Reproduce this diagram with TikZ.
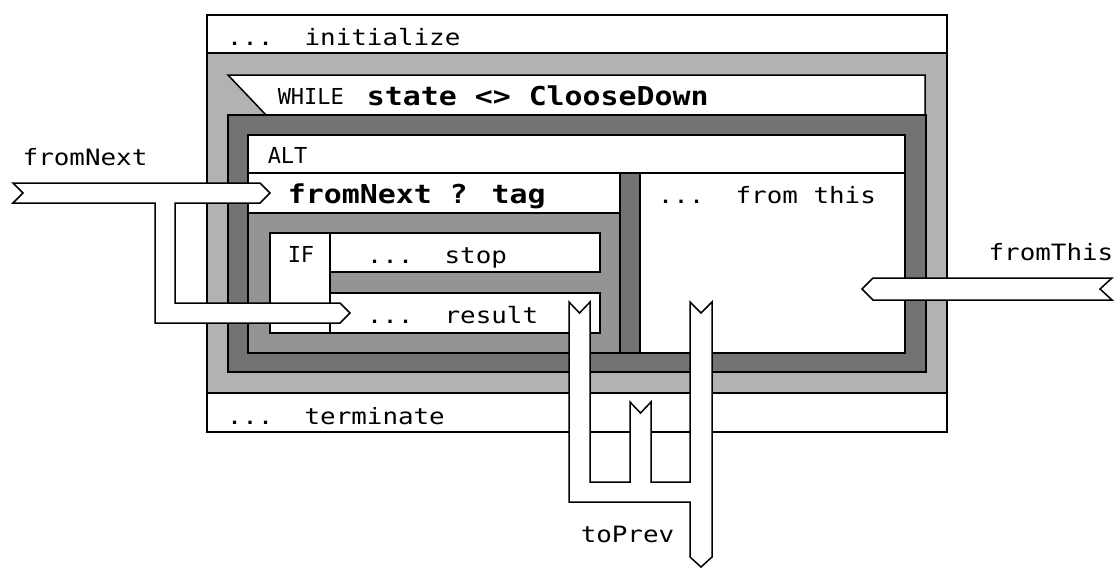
\documentclass[tikz,border=0pt]{standalone}
\usepackage{fontspec}
\usepackage{tikz}
\newfontfamily\pixfont[FakeStretch=1.15]{DejaVu Sans Mono}
\newfontfamily\kwfont{DejaVu Sans Mono}
\definecolor{bandLight}{gray}{0.70}
\definecolor{bandDark}{gray}{0.45}
\definecolor{bandMid}{gray}{0.58}

\begin{document}
\begin{tikzpicture}[x=1pt,y=-1pt,line width=1.5pt,
 cellbox/.style={draw=black,fill=white},
 lightband/.style={draw=black,fill=bandLight},
 darkband/.style={draw=black,fill=bandDark},
 midband/.style={draw=black,fill=bandMid},
 pipe/.style={draw=black,fill=white,line join=miter},
 plaintext/.style={anchor=base west,inner sep=0pt,font=\pixfont\fontsize{22.5}{24}\selectfont},
 boldtext/.style={plaintext,font=\pixfont\bfseries\fontsize{26}{28}\selectfont},
 keytext/.style={plaintext,font=\kwfont\fontsize{22}{24}\selectfont}]
\useasboundingbox (0,0) rectangle (1120,568);
% outer process frame
\draw[cellbox] (207,15) rectangle (947,432);
\draw[lightband] (207,53) rectangle (947,393);
% WHILE header with slanted corner
\draw[cellbox] (228,75) -- (925,75) -- (925,115) -- (266,115) -- cycle;
\draw[darkband] (228,115) rectangle (926,372);
% ALT construct
\draw[cellbox] (248,135) rectangle (905,353);
\draw (248,173) -- (905,173);
\draw[darkband] (620,173) rectangle (640,353);
\draw[cellbox] (248,173) rectangle (620,213);
\draw[midband] (248,213) rectangle (620,353);
% IF construct
\draw[cellbox] (270,233) rectangle (330,333);
\draw[cellbox] (330,233) rectangle (600,272);
\draw[cellbox] (330,293) rectangle (600,333);
% texts
\node[plaintext] (initTxt) at (226,45) {...\ \ initialize};
\node[keytext] (whileKw) at (277,104) {WHILE};
\node[boldtext] (whileCond) at (366,105) {state <> ClooseDown};
\node[keytext] (altKw) at (267,163) {ALT};
\node[boldtext] (inputTxt) at (287,203) {fromNext ? tag};
\node[keytext] (ifKw) at (287,262) {IF};
\node[plaintext] (stopTxt) at (366,263) {...\ \ stop};
\node[plaintext] (resultTxt) at (366,323) {...\ \ result};
\node[plaintext] (thisTxt) at (657,203) {...\ \ from this};
\node[plaintext] (termTxt) at (226,424) {...\ \ terminate};
\node[plaintext] (nextLbl) at (22,165) {fromNext};
\node[plaintext,anchor=base east] (thisLbl) at (1114,260) {fromThis};
\node[plaintext] (prevLbl) at (580,542) {toPrev};
% channel fromNext, split into the input and the result
\draw[pipe] (13,183) -- (260,183) -- (270,193) -- (260,203) -- (175,203) -- (175,303)
 -- (340,303) -- (350,313) -- (340,323) -- (155,323) -- (155,203) -- (13,203) -- (23,193) -- cycle;
% channel fromThis
\draw[pipe] (1112,278) -- (873,278) -- (862,289) -- (873,300) -- (1112,300) -- (1100,289) -- cycle;
% channel toPrev, three outputs merged
\draw[pipe] (569,302) -- (579.5,313) -- (590,302) -- (590,482) -- (630,482) -- (630,402)
 -- (640.5,413) -- (651,402) -- (651,482) -- (690,482) -- (690,302) -- (701,313) -- (712,302)
 -- (712,557) -- (701,567) -- (690,557) -- (690,502) -- (569,502) -- cycle;
\end{tikzpicture}
\end{document}
